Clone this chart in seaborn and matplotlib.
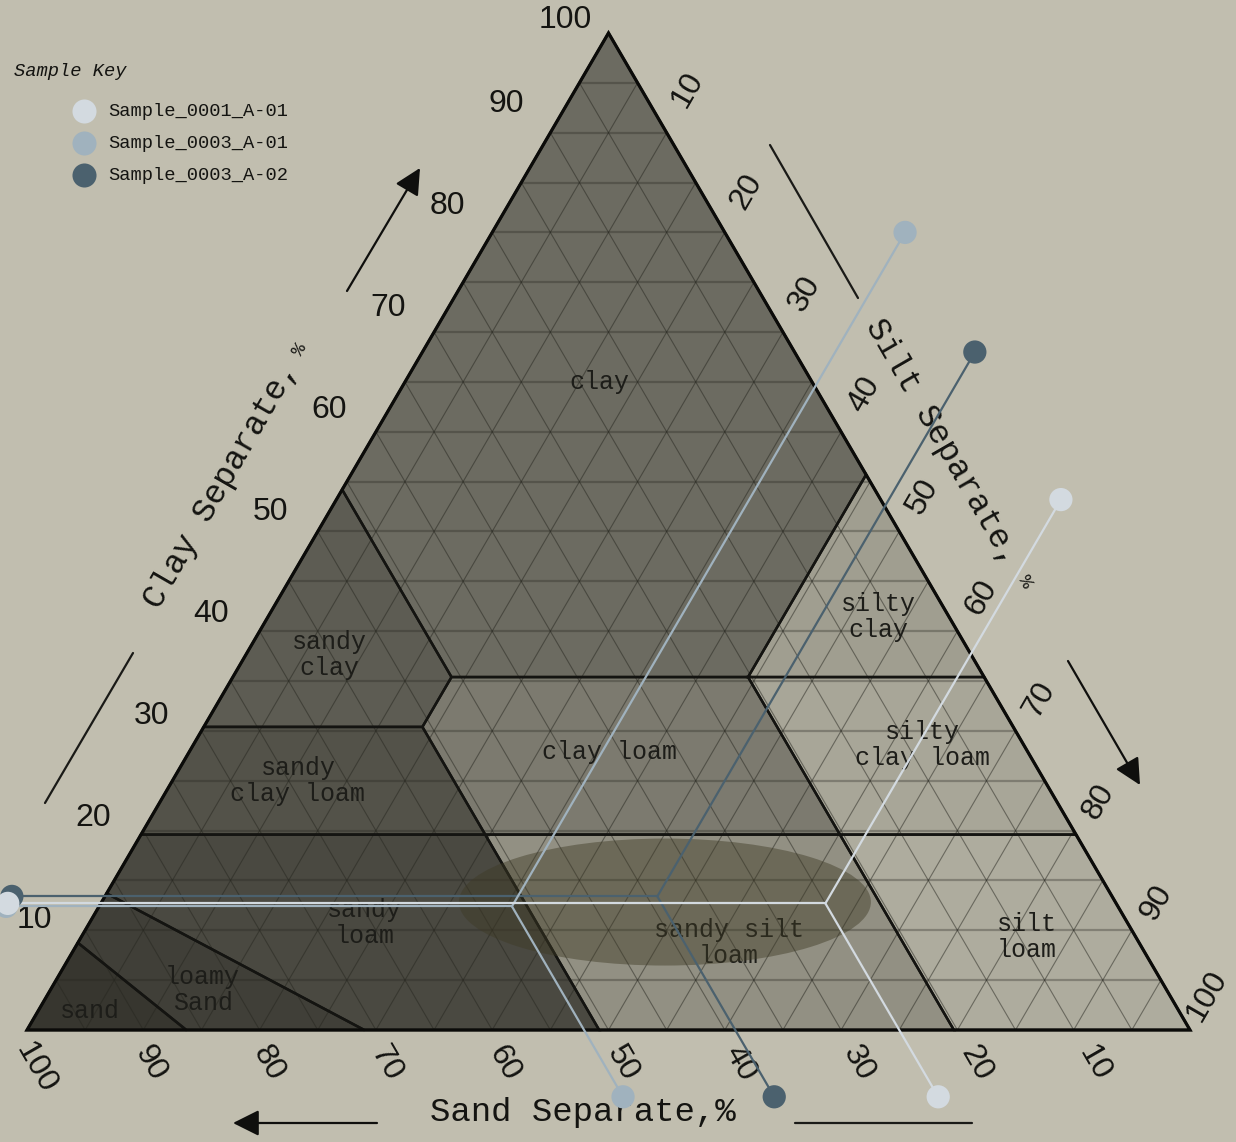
import numpy as np
import pandas as pd
import matplotlib
matplotlib.use("Agg")
import matplotlib.pyplot as plt
import seaborn as sns
from matplotlib.patches import Polygon, Ellipse

# ------------------------------------------------------------------ data
sample_names = ["Sample_0001_A-01", "Sample_0003_A-01", "Sample_0003_A-02"]
sample_sand = [25.0, 52.1, 39.1]
sample_silt = [62.3, 35.5, 47.5]
sample_clay = [12.7, 12.4, 13.4]
sample_colors = ["#d3dae0", "#a0b2be", "#4b616e"]

clay_ticks = [10, 20, 30, 40, 50, 60, 70, 80, 90, 100]
silt_ticks = [10, 20, 30, 40, 50, 60, 70, 80, 90, 100]
sand_ticks = [100, 90, 80, 70, 60, 50, 40, 30, 20, 10]

region_names = ["clay", "sandy clay", "sandy clay loam", "clay loam", "silty clay",
                "silty clay loam", "sandy loam", "loamy sand", "sand",
                "sandy silt loam", "silt loam"]
region_labels = ["clay", "sandy\nclay", "sandy\nclay loam", "clay loam", "silty\nclay",
                 "silty\nclay loam", "sandy\nloam", "loamy\nSand", "sand",
                 "sandy silt\nloam", "silt\nloam"]
# region outlines, vertices as (sand, silt, clay) percentages
region_vertices = [
    [(0, 0, 100), (45.8, 0, 54.2), (45.8, 18.8, 35.4), (20.3, 44.3, 35.4), (0, 44.3, 55.7)],
    [(45.8, 0, 54.2), (69.6, 0, 30.4), (50.8, 18.8, 30.4), (45.8, 18.8, 35.4)],
    [(69.6, 0, 30.4), (80.4, 0, 19.6), (50.8, 29.6, 19.6), (50.8, 18.8, 30.4)],
    [(45.8, 18.8, 35.4), (50.8, 18.8, 30.4), (50.8, 29.6, 19.6), (20.3, 60.1, 19.6), (20.3, 44.3, 35.4)],
    [(20.3, 44.3, 35.4), (0, 64.6, 35.4), (0, 44.3, 55.7)],
    [(20.3, 44.3, 35.4), (20.3, 60.1, 19.6), (0, 80.4, 19.6), (0, 64.6, 35.4)],
    [(80.4, 0, 19.6), (86.3, 0, 13.7), (71.0, 29.0, 0), (50.8, 49.2, 0), (50.8, 29.6, 19.6)],
    [(86.3, 0, 13.7), (91.25, 0, 8.75), (86.3, 13.7, 0), (71.0, 29.0, 0)],
    [(91.25, 0, 8.75), (100, 0, 0), (86.3, 13.7, 0)],
    [(50.8, 29.6, 19.6), (50.8, 49.2, 0), (20.3, 79.7, 0), (20.3, 60.1, 19.6)],
    [(20.3, 60.1, 19.6), (20.3, 79.7, 0), (0, 100, 0), (0, 80.4, 19.6)],
]
region_label_at = [(18.3, 16.7, 65.0), (55.2, 7.2, 37.6), (64.2, 10.8, 25.0), (36.0, 36.1, 27.9),
                   (6.1, 52.5, 41.4), (8.7, 62.7, 28.6), (65.6, 23.7, 10.7), (82.9, 13.1, 4.0),
                   (93.6, 4.5, 1.9), (35.3, 56.0, 8.7), (9.4, 81.3, 9.3)]
region_fill = ["#6c6b61", "#5d5c53", "#535249", "#7c7a6f", "#a09e90", "#a8a698",
               "#4a4941", "#403f38", "#37362f", "#929083", "#aeac9e"]

# ------------------------------------------------------------------ frame
BG = "#c1beaf"
INK = "#141411"
W, H = 1236, 1142
X0, Y0, SX, SY = 27.0, 1030.0, 11.63, 9.97   # pixel frame of the ternary diagram


def tern(sand, silt, clay):
    silt = np.asarray(silt, float)
    clay = np.asarray(clay, float)
    return silt + clay / 2.0, clay


def px(X, Y):
    return (np.asarray(X, float) - X0) / SX, (Y0 - np.asarray(Y, float)) / SY


sns.set_theme(style="white")
plt.rcParams["font.family"] = ["Liberation Mono", "DejaVu Sans Mono"]
NUMFONT = ["Liberation Sans", "DejaVu Sans"]

fig = plt.figure(figsize=(W / 100, H / 100), dpi=100)
fig.patch.set_facecolor(BG)
ax = fig.add_axes([0, 0, 1, 1])
ax.set_xlim(-X0 / SX, (W - X0) / SX)
ax.set_ylim((Y0 - H) / SY, Y0 / SY)
ax.set_axis_off()

# region fills
for verts, col in zip(region_vertices, region_fill):
    s, si, c = zip(*verts)
    x, y = tern(s, si, c)
    ax.add_patch(Polygon(np.column_stack([x, y]), closed=True, facecolor=col,
                         edgecolor="none", zorder=1))

# triangular grid every 5 %
for v in range(5, 100, 5):
    x, y = tern([100 - v, 0], [0, 100 - v], [v, v])
    ax.plot(x, y, color="#26261f", lw=1.6, alpha=0.32, zorder=2, solid_capstyle="butt")
    x, y = tern([100 - v, 0], [v, v], [0, 100 - v])
    ax.plot(x, y, color="#26261f", lw=0.8, alpha=0.5, zorder=2)
    x, y = tern([v, v], [100 - v, 0], [0, 100 - v])
    ax.plot(x, y, color="#26261f", lw=0.8, alpha=0.5, zorder=2)

# region boundaries
for verts in region_vertices:
    s, si, c = zip(*verts)
    x, y = tern(s, si, c)
    ax.add_patch(Polygon(np.column_stack([x, y]), closed=True, fill=False,
                         edgecolor=INK, lw=1.8, zorder=3))
x, y = tern([100, 0, 0], [0, 100, 0], [0, 0, 100])
ax.add_patch(Polygon(np.column_stack([x, y]), closed=True, fill=False,
                     edgecolor="#0b0b09", lw=2.3, zorder=4))

# region labels
for lab, (s, si, c) in zip(region_labels, region_label_at):
    x, y = tern(s, si, c)
    ax.text(x, y, lab, ha="center", va="center", multialignment="center",
            fontsize=18, color="#1d1d19", linespacing=1.12, zorder=5)

# sample cluster ellipse
ix, iy = tern(sample_sand, sample_silt, sample_clay)
ax.add_patch(Ellipse((ix.mean(), iy.mean()), width=412 / SX, height=127 / SY,
                     facecolor="#3e3a25", edgecolor="none", alpha=0.45, zorder=6))

# sample guide lines and end points
rows = []
order = [2, 1, 0]
for i in order:
    sa, si, cl = sample_sand[i], sample_silt[i], sample_clay[i]
    cx, cy = tern(sa, si, cl)
    ends = [tern(108.0 - cl, -8.0, cl),             # clay reading (left)
            tern(-15.5, si, 115.5 - si),            # silt reading (right)
            tern(sa, 106.7 - sa, -6.7)]             # sand reading (bottom)
    for ex, ey in ends:
        ax.plot([cx, ex], [cy, ey], color=sample_colors[i], lw=1.6, zorder=7,
                solid_capstyle="round")
        rows.append({"sample": sample_names[i], "x": float(ex), "y": float(ey)})
dots = pd.DataFrame(rows)
sns.scatterplot(data=dots, x="x", y="y", hue="sample",
                palette=dict(zip(sample_names, sample_colors)),
                s=280, linewidth=0, legend=False, ax=ax, zorder=8)
ax.set_xlim(-X0 / SX, (W - X0) / SX)
ax.set_ylim((Y0 - H) / SY, Y0 / SY)
ax.set_axis_off()

# tick labels
for c in clay_ticks:
    x, y = px(-25 + 5.9 * c, max(1022 - 10.2 * c, 20))
    ax.text(x, y, str(c), ha="center", va="center", fontsize=23, color=INK, family=NUMFONT)
for s in silt_ticks:
    X, Y = 629.4 + 5.86 * s, -11.6 + 10.16 * s
    if s == 100:
        X, Y = 1207, 996
    x, y = px(X, Y)
    ax.text(x, y, str(s), ha="center", va="center", fontsize=23, color=INK,
            rotation=60, family=NUMFONT)
for a in sand_ticks:
    x, y = px(1212.9 - 11.81 * a + (4 if a == 100 else 0), 1063 + (5 if a == 100 else 0))
    ax.text(x, y, str(a), ha="center", va="center", fontsize=23, color=INK,
            rotation=-60, family=NUMFONT)

# axis titles
x, y = px(222, 485)
ax.text(x, y, "Clay Separate,", ha="center", va="center", rotation=60, fontsize=24, color=INK)
x, y = px(300, 350)
ax.text(x, y, "%", ha="center", va="center", rotation=60, fontsize=14, color=INK)
x, y = px(942, 442)
ax.text(x, y, "Silt Separate,", ha="center", va="center", rotation=-60, fontsize=24, color=INK)
x, y = px(1025, 582)
ax.text(x, y, "%", ha="center", va="center", rotation=-60, fontsize=14, color=INK)
x, y = px(583, 1112)
ax.text(x, y, "Sand Separate,%", ha="center", va="center", fontsize=24.5, color=INK)

# direction arrows and rules
def seg(p0, p1):
    (x0, y0), (x1, y1) = px(*p0), px(*p1)
    ax.plot([x0, x1], [y0, y1], color="#1a1a17", lw=1.6)


def arrow(tail, head):
    ax.annotate("", xy=px(*head), xytext=px(*tail),
                arrowprops=dict(arrowstyle="-|>", mutation_scale=40, lw=1.6,
                                color="#0f0f0d", shrinkA=0, shrinkB=0))


seg((45, 803), (133, 653))
arrow((347, 291), (420, 168))
seg((770, 145), (858, 298))
arrow((1068, 661), (1140, 785))
arrow((377, 1123), (233, 1123))
seg((795, 1123), (972, 1123))

# legend (sample key)
fig.text(14 / W, 1 - 72 / H, "Sample Key", ha="left", va="center", fontsize=13.5,
         style="italic", color=INK)
for k, (name, col) in enumerate(zip(sample_names, sample_colors)):
    yy = 111 + 32 * k
    lx, ly = px(84, yy)
    ax.scatter([lx], [ly], s=300, color=col, linewidth=0, zorder=9)
    fig.text(108 / W, 1 - yy / H, name, ha="left", va="center", fontsize=13.5, color=INK)

fig.savefig("out.png", dpi=100, facecolor=BG)
